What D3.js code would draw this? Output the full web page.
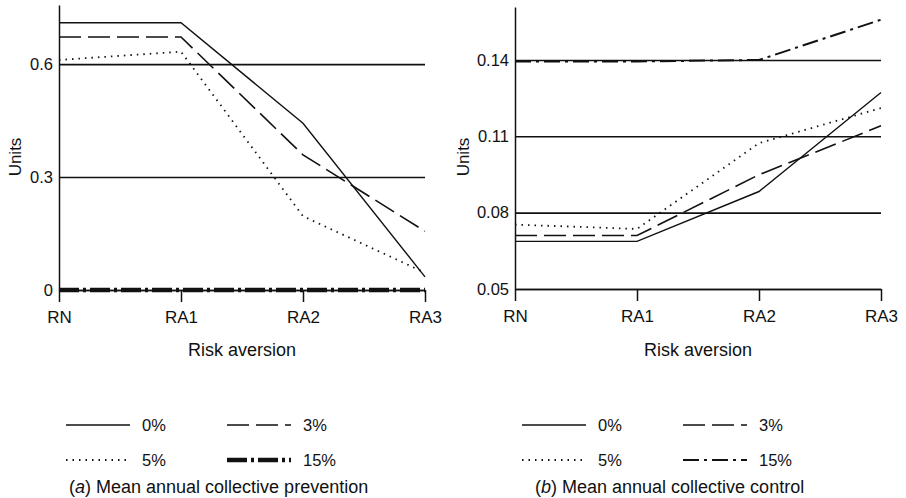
<!DOCTYPE html>
<html>
<head>
<meta charset="utf-8">
<script src="https://cdn.jsdelivr.net/npm/d3@7"></script>
<style>
  body { margin: 0; background: #fff; }
  svg { display: block; font-family: "Liberation Sans", Arial, sans-serif; }
</style>
</head>
<body>
<div class="chart"></div>
<script>
// categories and tick labels
const riskLevels = ["RN", "RA1", "RA2", "RA3"]
const seriesNames = ["0%", "3%", "5%", "15%"]

// (a) mean annual collective prevention
const preventionTicks = [0, 0.3, 0.6]
const prevention0 = [0.71, 0.71, 0.443, 0.035]
const prevention3 = [0.672, 0.672, 0.359, 0.156]
const prevention5 = [0.611, 0.633, 0.196, 0.046]
const prevention15 = [0, 0, 0, 0]

// (b) mean annual collective control
const controlTicks = [0.05, 0.08, 0.11, 0.14]
const control0 = [0.0687, 0.0687, 0.0883, 0.1272]
const control3 = [0.0710, 0.0710, 0.0949, 0.1141]
const control5 = [0.0753, 0.0736, 0.1073, 0.1211]
const control15 = [0.1394, 0.1394, 0.1400, 0.1558]

const ink = "#111"

const wrapper = d3.select(".chart")
    .append("svg")
    .attr("width", 906)
    .attr("height", 498)

function drawPanel(opts) {
    const bounds = wrapper.append("g")

    // scales
    const xScale = d3.scalePoint()
        .domain(riskLevels)
        .range([opts.left, opts.right])

    const yScale = d3.scaleLinear()
        .domain(opts.yDomain)
        .range([opts.bottom, opts.top])

    // gridlines + y axis
    const yAxisGenerator = d3.axisLeft(yScale)
        .tickValues(opts.ticks)
        .tickFormat(d => String(d))
        .tickSizeInner(-(opts.right - opts.left))
        .tickSizeOuter(0)
        .tickPadding(6)

    const yAxis = bounds.append("g")
        .attr("transform", `translate(${opts.left},0)`)
        .call(yAxisGenerator)
    yAxis.select(".domain").attr("stroke", ink).attr("stroke-width", 1.5)
    yAxis.selectAll(".tick line").attr("stroke", ink).attr("stroke-width", 1.6)
    yAxis.selectAll(".tick text")
        .attr("fill", ink)
        .style("font-size", "16.5px")
        .attr("font-family", null)

    // x axis
    const xAxisGenerator = d3.axisBottom(xScale)
        .tickSizeInner(12)
        .tickSizeOuter(0)
        .tickPadding(9)

    const xAxis = bounds.append("g")
        .attr("transform", `translate(0,${opts.bottom})`)
        .call(xAxisGenerator)
    xAxis.select(".domain").attr("stroke", ink).attr("stroke-width", 1.6)
    xAxis.selectAll(".tick line").attr("stroke", ink).attr("stroke-width", 1.5)
    xAxis.selectAll(".tick text")
        .attr("fill", ink)
        .style("font-size", "17px")
        .attr("font-family", null)

    // axis titles
    bounds.append("text")
        .attr("transform", `translate(${opts.unitsX},157) rotate(-90)`)
        .attr("text-anchor", "middle")
        .attr("dy", "0.35em")
        .attr("fill", ink)
        .style("font-size", "17px")
        .text("Units")

    bounds.append("text")
        .attr("x", (opts.left + opts.right) / 2)
        .attr("y", 356)
        .attr("text-anchor", "middle")
        .attr("fill", ink)
        .style("font-size", "18px")
        .text("Risk aversion")

    // lines
    const lineGenerator = d3.line()
        .x((d, i) => xScale(riskLevels[i]))
        .y(d => yScale(d))

    opts.series.forEach((values, i) => {
        bounds.append("path")
            .attr("d", lineGenerator(values))
            .attr("fill", "none")
            .attr("stroke", ink)
            .attr("stroke-width", opts.styles[i].width)
            .attr("stroke-dasharray", opts.styles[i].dash)
    })

    // legend
    const legend = bounds.append("g")
    seriesNames.forEach((name, i) => {
        const col = i % 2
        const row = Math.floor(i / 2)
        const lx = opts.left + 7 + col * 161
        const ly = 425 + row * 35
        legend.append("line")
            .attr("x1", lx)
            .attr("x2", lx + 64)
            .attr("y1", ly)
            .attr("y2", ly)
            .attr("stroke", ink)
            .attr("stroke-width", opts.styles[i].width)
            .attr("stroke-dasharray", opts.styles[i].dash)
        legend.append("text")
            .attr("x", lx + 76)
            .attr("y", ly)
            .attr("dy", "0.35em")
            .attr("fill", ink)
            .style("font-size", "16.5px")
            .text(name)
    })

    const caption = bounds.append("text")
        .attr("x", opts.captionX)
        .attr("y", 493)
        .attr("fill", ink)
        .style("font-size", "18px")
    caption.append("tspan").text("(")
    caption.append("tspan").attr("font-style", "italic").text(opts.letter)
    caption.append("tspan").text(") " + opts.caption)
}

drawPanel({
    left: 59, right: 425, top: 5, bottom: 290,
    yDomain: [0, 0.757],
    ticks: preventionTicks,
    unitsX: 15,
    captionX: 69,
    letter: "a",
    caption: "Mean annual collective prevention",
    series: [prevention0, prevention3, prevention5, prevention15],
    styles: [
        { width: 1.4, dash: null },
        { width: 1.6, dash: "22,7" },
        { width: 1.8, dash: "1.5,5" },
        { width: 4.5, dash: "20,4,3,4" },
    ],
})

drawPanel({
    left: 515, right: 881, top: 7, bottom: 289,
    yDomain: [0.05, 0.1608],
    ticks: controlTicks,
    unitsX: 463,
    captionX: 535,
    letter: "b",
    caption: "Mean annual collective control",
    series: [control0, control3, control5, control15],
    styles: [
        { width: 1.4, dash: null },
        { width: 1.6, dash: "22,7" },
        { width: 1.8, dash: "1.5,5" },
        { width: 2, dash: "16,5,3,5" },
    ],
})
</script>
</body>
</html>
